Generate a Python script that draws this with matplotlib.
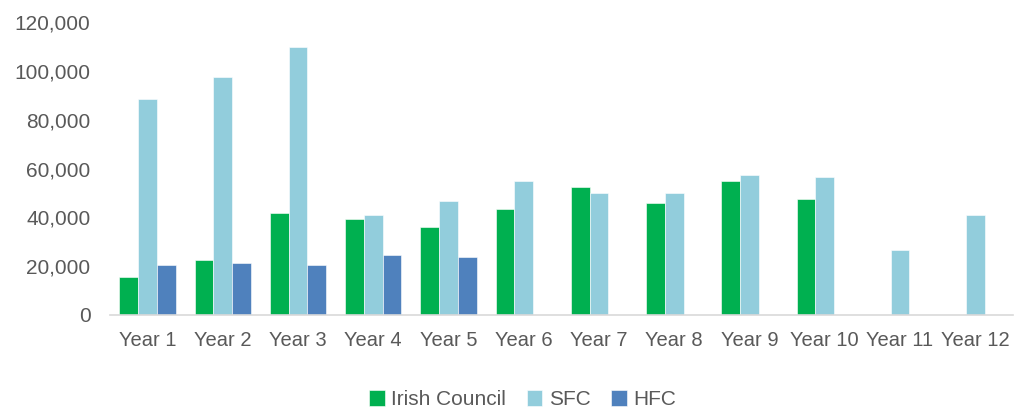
import matplotlib.pyplot as plt
import numpy as np

plt.rcParams['font.family'] = ['Liberation Sans', 'DejaVu Sans']

years = [f"Year {i}" for i in range(1, 13)]
irish_council = [15700, 22300, 41900, 39500, 36200, 43400, 52500, 46000, 54900, 47500, 0, 0]
sfc = [88400, 97400, 109700, 41000, 46700, 54900, 50000, 50000, 57400, 56600, 26400, 41000]
hfc = [20500, 21300, 20500, 24700, 23900, 0, 0, 0, 0, 0, 0, 0]

TEXT_COLOR = '#595959'
COLORS = {"Irish Council": "#00B050", "SFC": "#92CDDC", "HFC": "#4F81BD"}

fig = plt.figure(figsize=(10.17, 4.11), dpi=100)
ax = fig.add_axes([0.108, 0.234, 0.888, 0.712])

x = np.arange(len(years))
w = 0.25
series = [("Irish Council", irish_council), ("SFC", sfc), ("HFC", hfc)]
for i, (name, vals) in enumerate(series):
    ax.bar(x + (i - 1) * w, vals, width=w, color=COLORS[name], label=name,
           edgecolor='white', linewidth=0.4)

ax.set_xlim(-0.5, len(years) - 0.5)
ax.set_ylim(0, 120000)
ax.set_yticks(range(0, 120001, 20000))
ax.yaxis.set_major_formatter(plt.FuncFormatter(lambda v, p: "{:,}".format(int(v))))
ax.set_xticks(x)
ax.set_xticklabels(years)

for side in ['top', 'right', 'left']:
    ax.spines[side].set_visible(False)
ax.spines['bottom'].set_color('#D9D9D9')
ax.spines['bottom'].set_linewidth(1.2)
ax.tick_params(axis='both', length=0, colors=TEXT_COLOR)
ax.tick_params(axis='x', pad=12, labelsize=14.5)
ax.tick_params(axis='y', pad=14, labelsize=15)

ax.legend(loc='center', bbox_to_anchor=(0.457, -0.29), ncol=3, frameon=False,
          fontsize=15, labelcolor=TEXT_COLOR, handlelength=0.75, handleheight=0.75,
          handletextpad=0.3, columnspacing=1.0)

fig.savefig("out.png", dpi=100)
